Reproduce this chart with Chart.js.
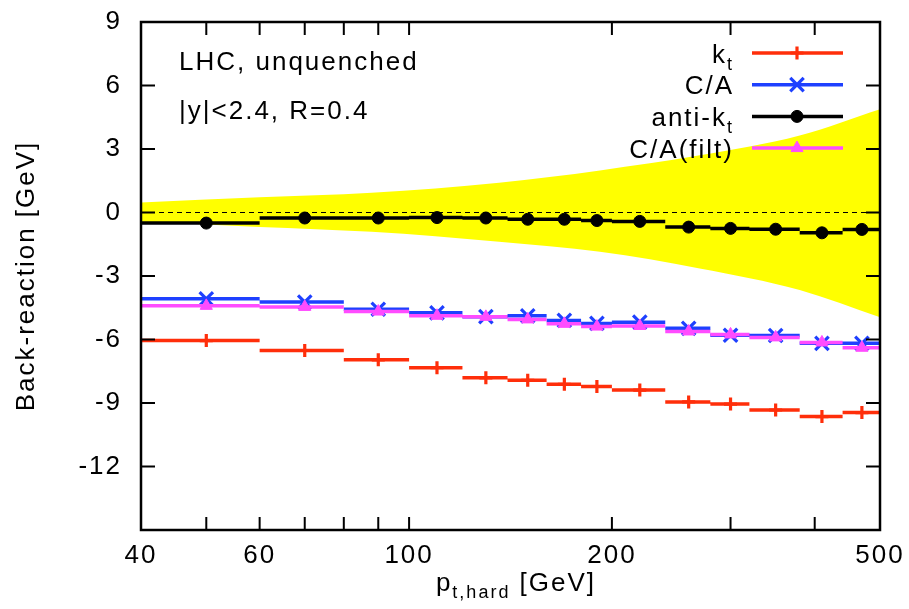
<!DOCTYPE html>
<html>
<head>
<meta charset="utf-8">
<script src="https://cdn.jsdelivr.net/npm/chart.js@4.4.1/dist/chart.umd.min.js"></script>
<style>
  html, body { margin: 0; padding: 0; background: #fff; }
  #wrap { width: 909px; height: 609px; }
</style>
</head>
<body>
<div id="wrap"><canvas id="myChart"></canvas></div>
<script>
(() => {
  //! DATA

  // bin edges and bin centres in pt,hard [GeV]
  const binEdges = [40, 60, 80, 100, 120, 140, 160, 180, 200, 240, 280, 320, 380, 440, 500];
  const binCenters = [50, 70, 90, 110, 130, 150, 170, 190, 220, 260, 300, 350, 410, 470];

  // back-reaction per algorithm [GeV]
  const ktValues = [-6.05, -6.52, -6.96, -7.33, -7.81, -7.93, -8.12, -8.22, -8.39, -8.95, -9.05, -9.33, -9.64, -9.45];
  const caValues = [-4.08, -4.23, -4.57, -4.74, -4.92, -4.88, -5.1, -5.24, -5.18, -5.47, -5.8, -5.81, -6.18, -6.18];
  const antiKtValues = [-0.5, -0.26, -0.26, -0.24, -0.26, -0.32, -0.32, -0.38, -0.42, -0.69, -0.75, -0.79, -0.96, -0.8];
  const caFiltValues = [-4.41, -4.46, -4.68, -4.88, -4.93, -5.05, -5.26, -5.39, -5.36, -5.62, -5.76, -5.9, -6.14, -6.39];

  // yellow band edges
  const bandPt = [40, 60, 88, 136, 192, 270, 380, 500];
  const bandTop = [0.47, 0.72, 0.93, 1.41, 1.99, 2.7, 3.64, 4.88];
  const bandBottom = [-0.44, -0.68, -0.91, -1.38, -1.86, -2.64, -3.66, -4.95];

  // axes
  const xTicks = [40, 60, 100, 200, 500];
  const xMinorTicks = [50, 70, 80, 90, 300, 400];
  const yTicks = [-15, -12, -9, -6, -3, 0, 3, 6, 9];

  const FONT = "'Liberation Sans', Arial, Helvetica, sans-serif";
  const RED = "#ff2e0a";
  const BLUE = "#1e40ff";
  const BLACK = "#000000";
  const MAGENTA = "#ff4cff";
  const YELLOW = "#ffff00";

  //! FUNCTIONS

  // horizontal bar per bin, marker at the centre, gap between bins
  function stepData(values) {
    const out = [];
    values.forEach((v, i) => {
      out.push({ x: binEdges[i], y: v });
      out.push({ x: binCenters[i], y: v, m: true });
      out.push({ x: binEdges[i + 1], y: v });
      out.push({ x: binEdges[i + 1], y: null });
    });
    return out;
  }

  function series(label, values, color, style, radius, order) {
    return {
      label: label,
      data: stepData(values),
      borderColor: color,
      backgroundColor: color,
      borderWidth: 3.5,
      spanGaps: false,
      pointStyle: style,
      pointRadius: c => (c.raw && c.raw.m ? radius : 0),
      pointBorderColor: color,
      pointBackgroundColor: color,
      pointBorderWidth: style === "circle" || style === "triangle" ? 1 : 3.2,
      order: order
    };
  }

  const legendRows = [
    { main: "k", sub: "t", color: RED, style: "cross", radius: 6.5 },
    { main: "C/A", sub: "", color: BLUE, style: "crossRot", radius: 9.5 },
    { main: "anti-k", sub: "t", color: BLACK, style: "circle", radius: 6 },
    { main: "C/A(filt)", sub: "", color: MAGENTA, style: "triangle", radius: 7 }
  ];

  // text with an optional lowered subscript, right or left aligned
  function subText(ctx, main, sub, x, baseline, align) {
    ctx.font = "26px " + FONT;
    const wMain = ctx.measureText(main).width;
    ctx.font = "18px " + FONT;
    const wSub = sub ? ctx.measureText(sub).width : 0;
    let start = x;
    if (align === "right") start = x - wMain - wSub;
    if (align === "center") start = x - (wMain + wSub) / 2;
    ctx.textAlign = "left";
    ctx.textBaseline = "alphabetic";
    ctx.font = "26px " + FONT;
    ctx.fillText(main, start, baseline);
    if (sub) {
      ctx.font = "18px " + FONT;
      ctx.fillText(sub, start + wMain, baseline + 7);
    }
    return start + wMain + wSub;
  }

  // frame with inward ticks, like gnuplot
  const framePlugin = {
    id: "frame",
    beforeDraw(chart) {
      chart.ctx.letterSpacing = "2px";
    },
    afterDatasetsDraw(chart) {
      const { ctx, chartArea: a, scales } = chart;
      const x = scales.x, y = scales.y;
      ctx.save();
      ctx.strokeStyle = "#000";
      ctx.lineWidth = 2;
      ctx.beginPath();
      yTicks.forEach(v => {
        const py = y.getPixelForValue(v);
        ctx.moveTo(a.left, py); ctx.lineTo(a.left + 14, py);
        ctx.moveTo(a.right, py); ctx.lineTo(a.right - 14, py);
      });
      xTicks.concat(xMinorTicks).forEach(v => {
        const px = x.getPixelForValue(v);
        ctx.moveTo(px, a.bottom); ctx.lineTo(px, a.bottom - 13);
        ctx.moveTo(px, a.top); ctx.lineTo(px, a.top + 13);
      });
      ctx.stroke();
      ctx.lineWidth = 2.5;
      ctx.strokeRect(a.left, a.top, a.right - a.left, a.bottom - a.top);
      ctx.restore();
    },
    afterDraw(chart) {
      const { ctx } = chart;
      ctx.save();
      ctx.letterSpacing = "2px";
      ctx.fillStyle = "#000";

      // labels inside the plot
      subText(ctx, "LHC, unquenched", "", 179, 70, "left");
      subText(ctx, "|y|<2.4, R=0.4", "", 179, 119, "left");

      // legend
      legendRows.forEach((row, i) => {
        const cy = 53 + i * 31.7;
        const bw = row.style === "circle" || row.style === "triangle" ? 1 : 3.2;
        ctx.fillStyle = "#000";
        subText(ctx, row.main, row.sub, 734, cy + 9.5, "right");
        ctx.strokeStyle = row.color;
        ctx.lineWidth = 3.5;
        ctx.beginPath();
        ctx.moveTo(752, cy); ctx.lineTo(843, cy);
        ctx.stroke();
        ctx.fillStyle = row.color;
        ctx.strokeStyle = row.color;
        ctx.lineWidth = bw;
        Chart.helpers.drawPoint(ctx, {
          pointStyle: row.style,
          radius: row.radius,
          rotation: 0,
          borderWidth: bw
        }, 797, cy);
      });

      // x axis title with subscript
      ctx.fillStyle = "#000";
      ctx.font = "26px " + FONT;
      const wp = ctx.measureText("p").width;
      ctx.font = "18px " + FONT;
      const ws = ctx.measureText("t,hard").width;
      ctx.font = "26px " + FONT;
      const wg = ctx.measureText(" [GeV]").width;
      let sx = 516 - (wp + ws + wg) / 2;
      sx = subText(ctx, "p", "t,hard", sx, 591, "left");
      subText(ctx, " [GeV]", "", sx, 591, "left");
      ctx.restore();
    }
  };

  //! CHART

  const ctx = document.getElementById("myChart");

  new Chart(ctx, {
    type: "line",
    data: {
      datasets: [
        {
          label: "band",
          data: bandPt.map((p, i) => ({ x: p, y: bandTop[i] })),
          borderWidth: 0,
          borderColor: YELLOW,
          backgroundColor: YELLOW,
          pointRadius: 0,
          cubicInterpolationMode: "monotone",
          fill: "+1",
          order: 20
        },
        {
          label: "band-low",
          data: bandPt.map((p, i) => ({ x: p, y: bandBottom[i] })),
          borderWidth: 0,
          borderColor: YELLOW,
          backgroundColor: YELLOW,
          pointRadius: 0,
          cubicInterpolationMode: "monotone",
          fill: false,
          order: 19
        },
        {
          label: "zero",
          data: [{ x: 40, y: 0 }, { x: 500, y: 0 }],
          borderColor: "#000",
          borderWidth: 1,
          borderDash: [5, 4],
          pointRadius: 0,
          order: 15
        },
        series("kt", ktValues, RED, "cross", 6.5, 6),
        series("C/A", caValues, BLUE, "crossRot", 9.5, 5),
        series("anti-kt", antiKtValues, BLACK, "circle", 6, 4),
        series("C/A(filt)", caFiltValues, MAGENTA, "triangle", 7, 3)
      ]
    },
    options: {
      responsive: true,
      maintainAspectRatio: false,
      animation: false,
      devicePixelRatio: 1,
      layout: { padding: { left: 0, right: 29, top: 22, bottom: 0 } },
      plugins: {
        legend: { display: false },
        tooltip: { enabled: false }
      },
      scales: {
        x: {
          type: "logarithmic",
          min: 40,
          max: 500,
          grid: { display: false, drawTicks: false },
          border: { display: false },
          afterBuildTicks: scale => {
            scale.ticks = xTicks.map(v => ({ value: v }));
          },
          afterFit: scale => {
            scale.height = 79;
            scale.paddingLeft = 0;
            scale.paddingRight = 0;
          },
          ticks: {
            autoSkip: false,
            maxRotation: 0,
            padding: 10,
            color: "#000",
            font: { family: FONT, size: 26 },
            callback: v => String(v)
          }
        },
        y: {
          type: "linear",
          min: -15,
          max: 9,
          grid: { display: false, drawTicks: false },
          border: { display: false },
          afterBuildTicks: scale => {
            scale.ticks = yTicks.map(v => ({ value: v }));
          },
          afterFit: scale => {
            scale.width = 141;
            scale.paddingTop = 0;
            scale.paddingBottom = 0;
          },
          title: {
            display: true,
            text: "Back-reaction [GeV]",
            color: "#000",
            font: { family: FONT, size: 26 },
            padding: { top: 11, bottom: 0 }
          },
          ticks: {
            padding: 19,
            color: "#000",
            font: { family: FONT, size: 26 },
            callback: v => (v === -15 ? "" : String(v))
          }
        }
      }
    },
    plugins: [framePlugin]
  });
})();
</script>
</body>
</html>
